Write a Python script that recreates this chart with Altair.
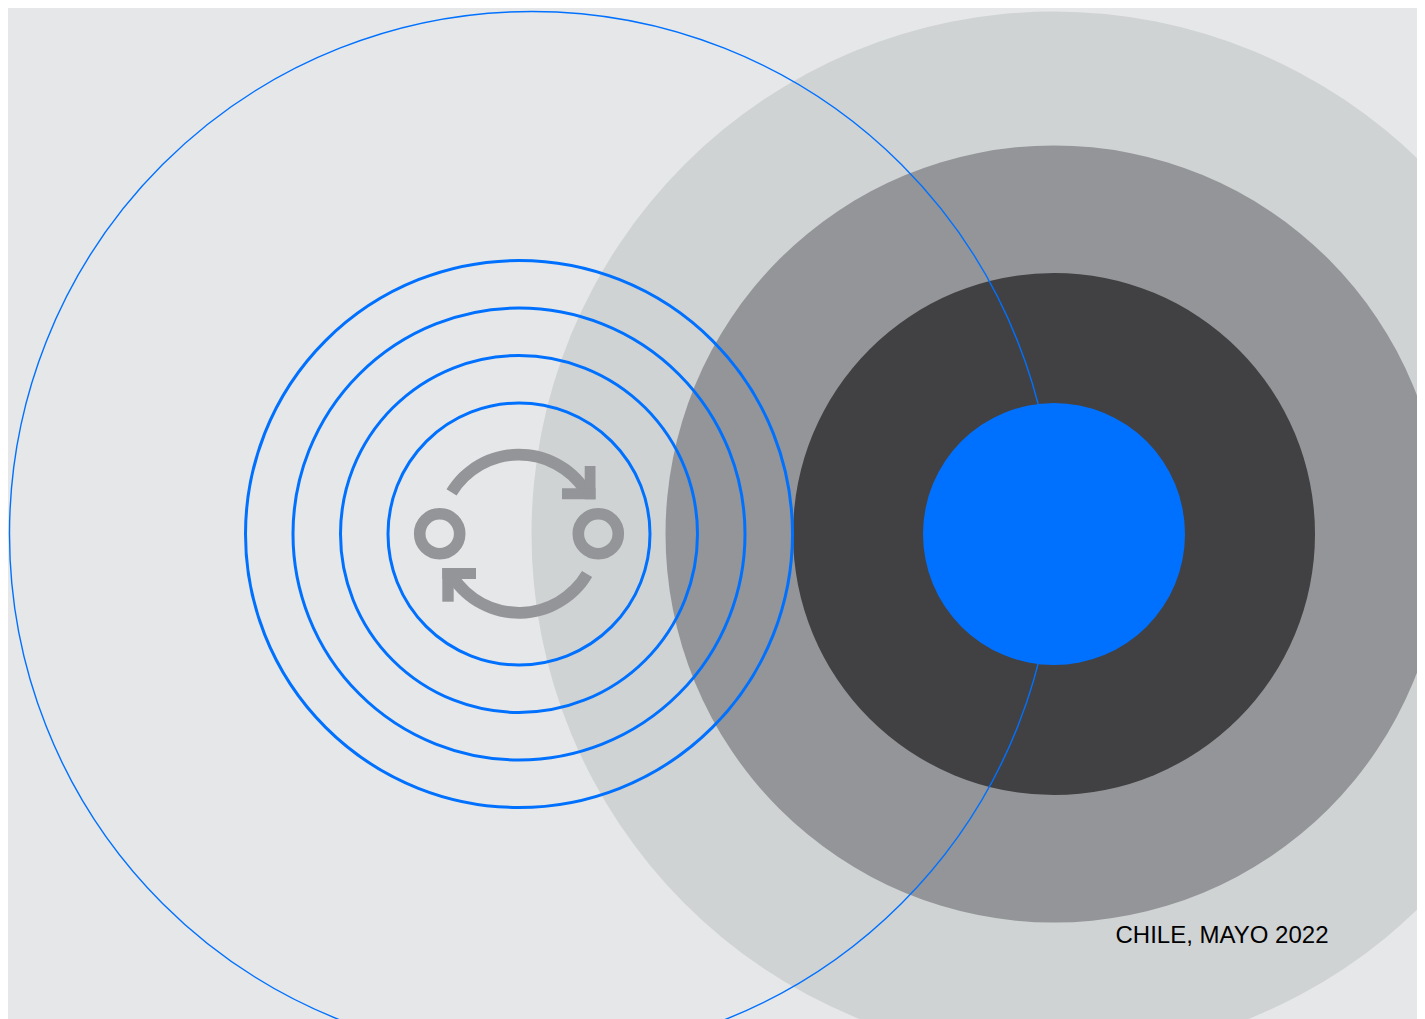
import math
import altair as alt
import pandas as pd

BG = "#e6e7e8"
W, H = 1425, 1019
M = 8  # page margin: data below is in window pixels

# filled discs and outlined rings, back to front
disc_x = [1054, 1054, 1054]
disc_y = [534, 534, 534]
disc_d = [1045, 777, 522]
disc_c = ["#d0d3d4", "#939598", "#414042"]

big_ring = dict(x=532, y=534, d=1045, w=1.4)
ring_x = [519, 519, 519, 519]
ring_y = [534, 534, 534, 534]
ring_d = [262, 357, 452, 547]
ring_w = [3, 3, 3, 3]
BLUE = "#0071ff"
front_disc = dict(x=1054, y=534, d=262)

icon_grey = "#939598"
dot_x = [439.7, 598.3]
dot_y = [533.7, 533.7]
arc_x = [519, 519]
arc_y = [533.7, 533.7]
arc_from = [-58.5, 120.6]
arc_to = [57, 237]
arc_in = [73.2, 73.2]
arc_out = [85, 85]
bar_x = [584.7, 562, 442.3, 442.3]
bar_x2 = [595.5, 595.5, 453.7, 476]
bar_y = [466, 488.3, 568, 568]
bar_y2 = [499.3, 499.3, 601.7, 579]

label = "CHILE, MAYO 2022"

PW, PH = W - 2 * M, H - M
X = alt.Scale(domain=[M, W - M], range=[0, PW])
Y = alt.Scale(domain=[M, H], range=[0, PH])
x = alt.X("x:Q", scale=X, axis=None)
y = alt.Y("y:Q", scale=Y, axis=None)


def points(df, **mark):
    return alt.Chart(df).mark_point(shape="circle", opacity=1, **mark).encode(
        x=x, y=y, size=alt.Size("s:Q", scale=None, legend=None)
    )


discs = pd.DataFrame({"x": disc_x, "y": disc_y, "s": [d * d for d in disc_d], "c": disc_c})
disc_layer = points(discs, filled=True, strokeWidth=0).encode(
    color=alt.Color("c:N", scale=None, legend=None),
    order=alt.Order("s:Q", sort="descending"),
)

thin = points(
    pd.DataFrame({"x": [big_ring["x"]], "y": [big_ring["y"]], "s": [big_ring["d"] ** 2]}),
    filled=False, stroke=BLUE, strokeWidth=big_ring["w"],
)
rings = points(
    pd.DataFrame({"x": ring_x, "y": ring_y, "s": [d * d for d in ring_d]}),
    filled=False, stroke=BLUE, strokeWidth=ring_w[0],
)
front = points(
    pd.DataFrame({"x": [front_disc["x"]], "y": [front_disc["y"]], "s": [front_disc["d"] ** 2]}),
    filled=True, color=BLUE, strokeWidth=0,
)
dots = points(
    pd.DataFrame({"x": dot_x, "y": dot_y, "s": [40 ** 2] * 2}),
    filled=False, stroke=icon_grey, strokeWidth=11.6,
)
arcs = alt.Chart(pd.DataFrame({
    "x": arc_x, "y": arc_y,
    "t": [math.radians(a) for a in arc_from],
    "t2": [math.radians(a) for a in arc_to],
    "r": arc_in, "r2": arc_out,
})).mark_arc(color=icon_grey).encode(
    x=x, y=y,
    theta=alt.Theta("t:Q", scale=None),
    theta2="t2:Q",
    radius=alt.Radius("r:Q", scale=None),
    radius2="r2:Q",
)
heads = alt.Chart(pd.DataFrame({"x": bar_x, "x2": bar_x2, "y": bar_y, "y2": bar_y2})).mark_rect(
    color=icon_grey
).encode(x=x, x2="x2:Q", y=y, y2="y2:Q")
text = alt.Chart(pd.DataFrame({"x": [1328.5], "y": [936], "t": [label]})).mark_text(
    align="right", baseline="middle", font="Liberation Sans", fontSize=24, color="#000000"
).encode(x=x, y=y, text="t:N")

chart = alt.layer(disc_layer, thin, rings, front, dots, arcs, heads, text).properties(
    width=PW, height=PH, padding=0, background=BG,
    autosize=alt.AutoSizeParams(type="none"),
).configure_view(stroke=None)

chart.save("out.html", embed_options={"renderer": "svg", "actions": False})
